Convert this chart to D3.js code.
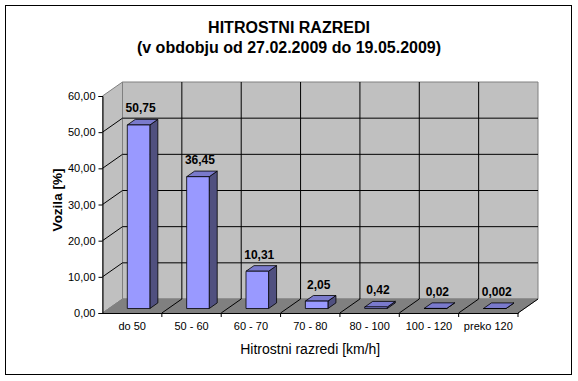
<!DOCTYPE html>
<html>
<head>
<meta charset="utf-8">
<script src="https://cdn.jsdelivr.net/npm/d3@7"></script>
<style>
  body { margin: 0; background: #fff; }
  text { font-family: "Liberation Sans", Arial, sans-serif; }
</style>
</head>
<body>
<div id="chart"></div>
<script>
// data
var categories = ["do 50", "50 - 60", "60 - 70", "70 - 80", "80 - 100", "100 - 120", "preko 120"];
var values = [50.75, 36.45, 10.31, 2.05, 0.42, 0.02, 0.002];
var yTicks = [0, 10, 20, 30, 40, 50, 60];
var titleLines = ["HITROSTNI RAZREDI", "(v obdobju od 27.02.2009 do 19.05.2009)"];

var W = 578, H = 381;
var plot = {left: 102.5, right: 518, bottom: 313, top: 96};
var depth = {dx: 20, dy: 14};
var z0 = 0.32, z1 = 0.72, barFrac = 0.38;

var svg = d3.select("#chart")
  .append("svg")
    .attr("width", W)
    .attr("height", H);

// outer border
svg.append("rect")
  .attr("x", 5.5).attr("y", 5.5)
  .attr("width", 566).attr("height", 369)
  .attr("fill", "#fff")
  .attr("stroke", "#000");

var x = d3.scaleBand()
  .domain(categories)
  .range([plot.left, plot.right]);

var y = d3.scaleLinear()
  .domain([0, 60])
  .range([plot.bottom, plot.top]);

var locale = d3.formatLocale({decimal: ",", thousands: ".", grouping: [3], currency: ["", ""]});
var fmt = locale.format(".2f");

// project a front-plane point back in depth
function p(px, v, z) {
  return [px + z * depth.dx, y(v) - z * depth.dy];
}
function poly(pts) {
  return pts.map(function(d) { return d.join(","); }).join(" ");
}

var g = svg.append("g");

// back wall
g.append("polygon")
  .attr("points", poly([p(plot.left, 0, 1), p(plot.right, 0, 1), p(plot.right, 60, 1), p(plot.left, 60, 1)]))
  .attr("fill", "#c0c0c0")
  .attr("stroke", "#808080");

// left wall
g.append("polygon")
  .attr("points", poly([p(plot.left, 0, 0), p(plot.left, 0, 1), p(plot.left, 60, 1), p(plot.left, 60, 0)]))
  .attr("fill", "#c0c0c0")
  .attr("stroke", "#808080");

// floor
g.append("polygon")
  .attr("points", poly([p(plot.left, 0, 0), p(plot.right, 0, 0), p(plot.right, 0, 1), p(plot.left, 0, 1)]))
  .attr("fill", "#808080")
  .attr("stroke", "#808080");

// horizontal gridlines (back wall + left wall)
var gridY = yTicks.filter(function(d) { return d > 0 && d < 60; });
gridY.forEach(function(t) {
  var a = p(plot.left, t, 0), b = p(plot.left, t, 1), c = p(plot.right, t, 1);
  g.append("polyline")
    .attr("points", poly([a, b, c]))
    .attr("fill", "none")
    .attr("stroke", "#000");
});

// vertical gridlines on back wall + floor lines at category boundaries
categories.slice(1).forEach(function(c) {
  var bx = x(c);
  g.append("line")
    .attr("x1", p(bx, 0, 1)[0]).attr("y1", p(bx, 0, 1)[1])
    .attr("x2", p(bx, 60, 1)[0]).attr("y2", p(bx, 60, 1)[1])
    .attr("stroke", "#000");
  g.append("line")
    .attr("x1", p(bx, 0, 0)[0]).attr("y1", p(bx, 0, 0)[1])
    .attr("x2", p(bx, 0, 1)[0]).attr("y2", p(bx, 0, 1)[1])
    .attr("stroke", "#000");
});
// floor right edge
g.append("line")
  .attr("x1", p(plot.right, 0, 0)[0]).attr("y1", p(plot.right, 0, 0)[1])
  .attr("x2", p(plot.right, 0, 1)[0]).attr("y2", p(plot.right, 0, 1)[1])
  .attr("stroke", "#000");

// bars
var bw = x.bandwidth() * barFrac;
var bars = g.selectAll(".bar")
  .data(values)
  .enter()
  .append("g")
    .attr("class", "bar");

bars.each(function(v, i) {
  var b = d3.select(this);
  var x0 = x(categories[i]) + (x.bandwidth() - bw) / 2, x1 = x0 + bw;
  b.append("polygon")
    .attr("points", poly([p(x1, 0, z0), p(x1, 0, z1), p(x1, v, z1), p(x1, v, z0)]))
    .attr("fill", "#50507f").attr("stroke", "#000").attr("stroke-width", 0.8);
  b.append("polygon")
    .attr("points", poly([p(x0, v, z0), p(x1, v, z0), p(x1, v, z1), p(x0, v, z1)]))
    .attr("fill", "#7a7acc").attr("stroke", "#000").attr("stroke-width", 0.8);
  b.append("polygon")
    .attr("points", poly([p(x0, 0, z0), p(x1, 0, z0), p(x1, v, z0), p(x0, v, z0)]))
    .attr("fill", "#9999ff").attr("stroke", "#000").attr("stroke-width", 0.8);
  var lp = p(x0 + bw / 2, v, z1);
  b.append("text")
    .attr("x", lp[0] - 6)
    .attr("y", lp[1] - 7)
    .attr("text-anchor", "middle")
    .style("font-size", "12px")
    .style("font-weight", "bold")
    .text(String(v).replace(".", ","));
});

// y axis
var yAxis = svg.append("g")
  .attr("transform", "translate(" + plot.left + ",0)")
  .call(d3.axisLeft(y).tickValues(yTicks).tickFormat(fmt).tickSize(4).tickPadding(3));
yAxis.select(".domain").attr("stroke", "#000");
yAxis.selectAll("text").style("font-size", "11px").attr("fill", "#000")
  .style("font-family", "'Liberation Sans', Arial, sans-serif");

// x axis
var xAxis = svg.append("g")
  .attr("transform", "translate(0," + plot.bottom + ")")
  .call(d3.axisBottom(x).tickSize(0).tickPadding(9));
xAxis.select(".domain").attr("stroke", "#000");
xAxis.selectAll("text").style("font-size", "11px").attr("fill", "#000")
  .style("font-family", "'Liberation Sans', Arial, sans-serif");
// category boundary ticks
xAxis.selectAll(".bound")
  .data(categories.slice(1).concat(["_end"]))
  .enter()
  .append("line")
    .attr("x1", function(d) { return d === "_end" ? plot.right : x(d); })
    .attr("x2", function(d) { return d === "_end" ? plot.right : x(d); })
    .attr("y1", 0).attr("y2", 4)
    .attr("stroke", "#000");

// titles
svg.selectAll(".title")
  .data(titleLines)
  .enter()
  .append("text")
    .attr("x", 289)
    .attr("y", function(d, i) { return 32.5 + i * 20; })
    .attr("text-anchor", "middle")
    .style("font-size", "16px")
    .style("font-weight", "bold")
    .text(function(d) { return d; });

svg.append("text")
  .attr("transform", "translate(62,200)rotate(-90)")
  .attr("text-anchor", "middle")
  .style("font-size", "13.5px")
  .style("font-weight", "bold")
  .text("Vozila [%]");

svg.append("text")
  .attr("x", (plot.left + plot.right) / 2)
  .attr("y", 353.5)
  .attr("text-anchor", "middle")
  .style("font-size", "14px")
  .text("Hitrostni razredi [km/h]");
</script>
</body>
</html>
